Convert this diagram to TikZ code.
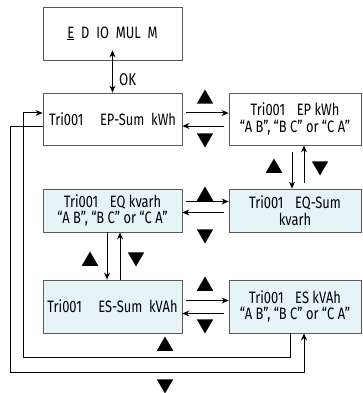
\documentclass[tikz,border=0pt]{standalone}
\usepackage{fontspec}
\setmainfont{Fira Sans}[FakeStretch=0.78]
\usepackage{xcolor}
\usetikzlibrary{shapes.geometric,arrows.meta}
\definecolor{boxblue}{RGB}{230,244,250}
\definecolor{boxline}{RGB}{90,90,90}
\tikzset{
  menubox/.style={draw=boxline, line width=0.8pt, minimum width=139pt, align=center, inner sep=0pt, font=\fontsize{16.5}{16.5}\selectfont},
  bluebox/.style={menubox, fill=boxblue},
  arr/.style={draw=black, line width=1pt, -{Stealth[length=7pt,width=6pt]}},
  updown/.style={draw=black, line width=1pt, {Stealth[length=7pt,width=6pt]}-{Stealth[length=7pt,width=6pt]}},
  tri/.style={regular polygon, regular polygon sides=3, fill=black, minimum size=19pt, inner sep=0pt},
  trid/.style={tri, shape border rotate=180}
}
\begin{document}
\begin{tikzpicture}[x=1pt,y=1pt,yscale=-1,xscale=1]
    \useasboundingbox (0,0) rectangle (362,393);

    %Boxes
    \node [menubox, minimum height=53pt] (menu) at (112.5,33.5) {\underline{E}\ \ D\ \ IO\ \ MUL\ \ M};
    \node [menubox, minimum height=52pt] (epsum) at (112.5,119) {Tri001\quad EP-Sum\ \ kWh};
    \node [menubox, minimum height=52pt, minimum width=132pt] (epph) at (295,119) {Tri001\enspace\ EP kWh\\“A B”, “B C” or “C A”};
    \node [bluebox, minimum height=43pt] (eqph) at (112.5,210.5) {Tri001\enspace\ EQ kvarh\\“A B”, “B C” or “C A”};
    \node [bluebox, minimum height=43pt, minimum width=132pt] (eqsum) at (295,210.5) {Tri001\enspace\ EQ-Sum\\kvarh};
    \node [bluebox, minimum height=53pt] (essum) at (112.5,306.5) {Tri001\quad ES-Sum\ \ kVAh};
    \node [bluebox, minimum height=53pt, minimum width=132pt] (esph) at (295,306.5) {Tri001\enspace\ ES kVAh\\“A B”, “B C” or “C A”};

    %OK
    \draw [updown] ([yshift=-10pt]menu.south) -- (epsum.north);
    \node [anchor=west, inner sep=0pt, font=\fontsize{17}{17}\selectfont] (ok) at (119,80) {OK};

    %Row arrows
    \draw [arr, shorten <=5pt] ([yshift=7pt]epph.west) -- ([yshift=7pt]epsum.east);
    \draw [arr, shorten <=4pt] ([yshift=-6pt]epsum.east) -- ([yshift=-6pt]epph.west);
    \draw [arr, shorten <=5pt] ([yshift=2pt]eqsum.west) -- ([yshift=2pt]eqph.east);
    \draw [arr, shorten <=4pt] ([yshift=-9pt]eqph.east) -- ([yshift=-9pt]eqsum.west);
    \draw [arr, shorten <=5pt] ([yshift=7pt]esph.west) -- ([yshift=7pt]essum.east);
    \draw [arr, shorten <=4pt] ([yshift=-6pt]essum.east) -- ([yshift=-6pt]esph.west);

    %Column arrows
    \draw [arr, shorten <=7pt] ([xshift=-3pt]epph.south) -- ([xshift=-3pt]eqsum.north);
    \draw [arr, shorten <=6pt] ([xshift=9pt]eqsum.north) -- ([xshift=9pt]epph.south);
    \draw [arr] ([xshift=-5.5pt]eqph.south) -- ([xshift=-5.5pt]essum.north);
    \draw [arr] ([xshift=7.5pt]essum.north) -- ([xshift=7.5pt]eqph.south);

    %Loops
    \coordinate (inL) at (23,357);
    \coordinate (outL) at (10,372);
    \draw [arr] ([xshift=-5pt]esph.south) |- (inL) |- ([yshift=-6pt]epsum.west);
    \draw [arr] ([yshift=7pt]epsum.west) -| (outL) -| ([xshift=9pt]esph.south);

    %Keys
    \node [tri] (k1) at (205,99) {};
    \node [trid] (k2) at (205,138) {};
    \node [tri] (k3) at (274,168) {};
    \node [trid] (k4) at (320,166) {};
    \node [tri] (k5) at (205,196) {};
    \node [trid] (k6) at (205,234) {};
    \node [tri] (k7) at (90,261) {};
    \node [trid] (k8) at (136,257) {};
    \node [tri] (k9) at (205,286) {};
    \node [trid] (k10) at (205,324) {};
    \node [tri] (k11) at (165,346) {};
    \node [trid] (k12) at (165,384) {};

\end{tikzpicture}
\end{document}
